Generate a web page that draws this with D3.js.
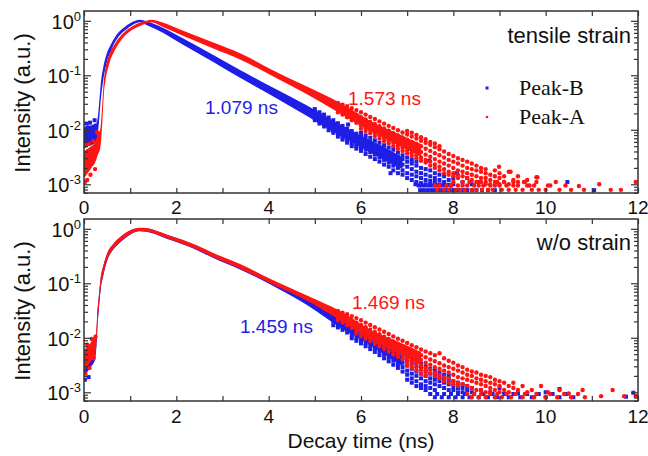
<!DOCTYPE html>
<html>
<head>
<meta charset="utf-8">
<script src="https://cdn.jsdelivr.net/npm/d3@7/dist/d3.min.js"></script>
<style>
body { margin: 0; background: #fff; }
svg { display: block; }
</style>
</head>
<body>
<script>
const WIDTH = 648;
const HEIGHT = 456;

// axis labels
const xTicks = [0, 2, 4, 6, 8, 10, 12];
const yDecades = [0, -1, -2, -3];
const panelNames = ['tensile strain', 'w/o strain'];
const seriesNames = ['Peak-B', 'Peak-A'];
const lifetimesB = ['1.079 ns', '1.459 ns'];
const lifetimesA = ['1.573 ns', '1.469 ns'];

// dense part of each decay: [time ns, lower edge, upper edge]
const topBBand = [[0.00,0.0045,0.011],[0.08,0.0050,0.012],[0.16,0.0052,0.012],[0.24,0.0058,0.013],[0.26,0.0060,0.013],
  [0.29,0.0075,0.015],[0.33,0.016,0.032],[0.36,0.033,0.065],[0.41,0.075,0.13],[0.48,0.155,0.23],[0.59,0.29,0.38],
  [0.71,0.46,0.56],[0.89,0.67,0.78],[1.07,0.86,0.97],[1.21,0.94,1.05],[1.35,0.84,0.98],[1.72,0.60,0.74],
  [2.08,0.39,0.51],[2.80,0.175,0.235],[3.38,0.090,0.125],[4.10,0.041,0.059],[4.83,0.018,0.028],[5.55,0.0078,0.0125],
  [6.00,0.0048,0.0078],[6.50,0.0028,0.0048],[6.90,0.0019,0.0031]];
const topABand = [[0.00,0.0013,0.0040],[0.08,0.0016,0.0045],[0.16,0.0020,0.0050],[0.24,0.0025,0.0060],[0.30,0.0035,0.0085],
  [0.35,0.0045,0.010],[0.40,0.015,0.033],[0.43,0.045,0.080],[0.46,0.075,0.125],[0.54,0.155,0.23],[0.67,0.29,0.38],
  [0.82,0.46,0.56],[1.03,0.67,0.78],[1.29,0.86,0.97],[1.45,0.94,1.05],[1.72,0.76,0.92],[2.08,0.56,0.69],
  [2.80,0.31,0.40],[3.38,0.195,0.255],[4.10,0.095,0.123],[4.83,0.045,0.062],[5.55,0.020,0.031],[6.27,0.0088,0.0135],
  [6.80,0.0052,0.0085],[7.30,0.0032,0.0055]];
const botBBand = [[0.00,0.0020,0.0042],[0.08,0.0024,0.0048],[0.16,0.0030,0.0055],[0.24,0.0040,0.0075],[0.27,0.0070,0.013],
  [0.29,0.015,0.028],[0.32,0.032,0.056],[0.36,0.075,0.12],[0.42,0.14,0.21],[0.51,0.27,0.36],[0.64,0.42,0.53],
  [0.82,0.60,0.74],[1.00,0.78,0.93],[1.20,0.90,1.04],[1.35,0.88,1.02],[1.79,0.66,0.78],[2.44,0.41,0.49],
  [2.80,0.29,0.35],[3.38,0.18,0.22],[4.11,0.088,0.106],[4.83,0.040,0.052],[5.55,0.0155,0.022],[6.00,0.0092,0.0135],
  [6.50,0.0050,0.0075],[6.90,0.0030,0.0048]];
const botABand = [[0.00,0.0025,0.0060],[0.08,0.0030,0.0070],[0.16,0.0038,0.0085],[0.22,0.0045,0.0105],[0.26,0.0060,0.012],
  [0.29,0.016,0.030],[0.32,0.034,0.058],[0.36,0.078,0.125],[0.42,0.145,0.215],[0.51,0.28,0.37],[0.64,0.43,0.54],
  [0.82,0.61,0.75],[1.00,0.79,0.94],[1.20,0.91,1.05],[1.35,0.89,1.03],[1.79,0.67,0.79],[2.44,0.42,0.50],
  [2.80,0.30,0.36],[3.38,0.185,0.225],[4.11,0.093,0.112],[4.83,0.048,0.060],[5.55,0.021,0.031],[6.27,0.0088,0.013],
  [6.80,0.0053,0.0085],[7.30,0.0032,0.0055]];

// noisy tail, one column of read-off intensities per time bin: [time ns, [intensities]]
const topBCols = [
  [5.0,[0.015,0.018,0.021,0.024,0.0165]],[5.1,[0.013,0.016,0.019,0.021,0.0145]],[5.2,[0.0115,0.014,0.0165,0.019,0.0128]],
  [5.3,[0.0098,0.012,0.0145,0.0168,0.011]],[5.4,[0.0088,0.0105,0.0128,0.015,0.0095]],[5.5,[0.0075,0.0092,0.011,0.0132,0.0083]],
  [5.6,[0.0066,0.008,0.0097,0.0118,0.0072]],[5.7,[0.0058,0.007,0.0086,0.0105,0.0063]],[5.8,[0.005,0.0062,0.0076,0.0095,0.0056]],
  [5.9,[0.0045,0.0054,0.0067,0.0085,0.005]],[6.0,[0.0041,0.0048,0.006,0.0076,0.0088]],[6.1,[0.0036,0.0043,0.0053,0.0068,0.0079]],
  [6.2,[0.0032,0.0039,0.0047,0.006,0.0071]],[6.3,[0.0029,0.0035,0.0042,0.0054,0.0064]],[6.4,[0.0026,0.0031,0.0038,0.0049,0.0058]],
  [6.5,[0.0023,0.0028,0.0034,0.0044,0.0052]],[6.6,[0.0021,0.0025,0.0031,0.0039,0.0047]],[6.7,[0.0018,0.0022,0.0028,0.0035,0.0043]],
  [6.8,[0.0016,0.002,0.0025,0.0032,0.0038]],[6.9,[0.0015,0.0018,0.0023,0.0029,0.0034]],[7.0,[0.0013,0.0016,0.0021,0.0026,0.0031]],
  [7.1,[0.0012,0.0015,0.0019,0.0024,0.0028]],[7.2,[0.0011,0.0014,0.0017,0.0022,0.0026]],[7.3,[0.00105,0.0013,0.0016,0.002]],
  [7.4,[0.001,0.0012,0.0015,0.0019]],[7.5,[0.001,0.00115,0.0014,0.0018]],[7.6,[0.00098,0.0011,0.0013,0.0016]],
  [7.7,[0.001,0.0012,0.0015]],[7.8,[0.001,0.0011,0.0014]],[7.9,[0.00098,0.0012]],[8.0,[0.001,0.0013]],
  [8.2,[0.0011]],[8.4,[0.001]]];
const topACols = [
  [5.5,[0.021,0.024,0.027,0.031]],[5.6,[0.019,0.022,0.025,0.029]],[5.7,[0.017,0.0195,0.023,0.027]],[5.8,[0.015,0.0175,0.021,0.025]],
  [5.9,[0.0135,0.016,0.019,0.023]],[6.0,[0.012,0.0145,0.017,0.021,0.0105]],[6.1,[0.0108,0.013,0.0155,0.019,0.0095]],
  [6.2,[0.0097,0.0118,0.014,0.0172,0.0086]],[6.3,[0.0088,0.0106,0.0128,0.0158,0.0077]],[6.4,[0.0079,0.0096,0.0116,0.0143,0.0069]],
  [6.5,[0.0071,0.0087,0.0106,0.013,0.0062]],[6.6,[0.0064,0.0079,0.0096,0.0118,0.0056]],[6.7,[0.0058,0.0071,0.0087,0.0108,0.005]],
  [6.8,[0.0052,0.0064,0.0079,0.0098,0.0045]],[6.9,[0.0047,0.0058,0.0072,0.0089,0.0041]],[7.0,[0.0042,0.0053,0.0066,0.0082,0.0037,0.0095]],
  [7.1,[0.0038,0.0048,0.006,0.0075,0.0033,0.0088]],[7.2,[0.0034,0.0043,0.0055,0.0069,0.003,0.008]],
  [7.3,[0.0031,0.0039,0.005,0.0063,0.0027,0.0073]],[7.4,[0.0028,0.0035,0.0045,0.0058,0.0025,0.0067]],
  [7.5,[0.0026,0.0032,0.0041,0.0053,0.0022,0.006]],[7.6,[0.0023,0.0029,0.0037,0.0048,0.002,0.0056]],
  [7.7,[0.0021,0.0026,0.0034,0.0044,0.0018,0.005]],[7.8,[0.0019,0.0024,0.0031,0.004,0.0016]],[7.9,[0.0017,0.0022,0.0028,0.0036,0.0015]],
  [8.0,[0.0016,0.002,0.0026,0.0033,0.0014]],[8.1,[0.0015,0.0018,0.0024,0.003,0.0013]],[8.2,[0.0014,0.0017,0.0022,0.0028]],
  [8.3,[0.0013,0.0016,0.002,0.0026]],[8.4,[0.0012,0.0015,0.0019,0.0024]],[8.5,[0.0011,0.0014,0.0018,0.0022]],
  [8.6,[0.0011,0.0013,0.0017,0.002]],[8.7,[0.001,0.0013,0.0016,0.0019]],[8.8,[0.001,0.0012,0.0015]],[8.9,[0.0011,0.0014,0.0018]],
  [9.0,[0.001,0.0013,0.0016]],[9.1,[0.0011,0.0014]],[9.2,[0.001,0.0017]],[9.3,[0.0012]],[9.4,[0.0011,0.0014]],
  [9.6,[0.0012]],[9.8,[0.00135]]];
const botBCols = [
  [5.4,[0.017,0.02,0.023,0.026]],[5.5,[0.0155,0.018,0.021,0.024]],[5.6,[0.014,0.0163,0.019,0.022]],[5.7,[0.0125,0.0146,0.017,0.02]],
  [5.8,[0.0112,0.013,0.0152,0.018,0.0098]],[5.9,[0.01,0.0117,0.0137,0.0162,0.0088]],[6.0,[0.009,0.0105,0.0123,0.0146,0.0079]],
  [6.1,[0.008,0.0094,0.011,0.013,0.007]],[6.2,[0.0071,0.0084,0.0099,0.0117,0.0062]],[6.3,[0.0063,0.0075,0.0088,0.0104,0.0055]],
  [6.4,[0.0056,0.0066,0.0079,0.0093,0.0048]],[6.5,[0.0049,0.0059,0.007,0.0083,0.0042]],[6.6,[0.0043,0.0052,0.0062,0.0074,0.0037]],
  [6.7,[0.0038,0.0046,0.0055,0.0066,0.0032]],[6.8,[0.0033,0.004,0.0049,0.0059,0.0028]],[6.9,[0.0029,0.0035,0.0043,0.0052,0.0024]],
  [7.0,[0.0025,0.0031,0.0038,0.0046,0.0021,0.0017]],[7.1,[0.0022,0.0027,0.0034,0.0041,0.0018,0.0015]],
  [7.2,[0.002,0.0024,0.003,0.0037,0.0016,0.0013]],[7.3,[0.0018,0.0022,0.0027,0.0033,0.0014,0.0012]],
  [7.4,[0.0016,0.002,0.0024,0.003,0.0013,0.0011]],[7.5,[0.0015,0.0018,0.0022,0.0027,0.0012]],[7.6,[0.0014,0.0017,0.002,0.0025,0.0011]],
  [7.7,[0.0013,0.0016,0.0019,0.0023]],[7.8,[0.0012,0.0015,0.0018,0.0021]],[7.9,[0.0011,0.0014,0.0017,0.002]],
  [8.0,[0.0011,0.0013,0.0016]],[8.1,[0.001,0.0012,0.0015]],[8.2,[0.001,0.0012,0.0014]],[8.3,[0.0011,0.0013]],
  [8.4,[0.001,0.0012]],[8.6,[0.0011]],[8.8,[0.001]]];
const botACols = [
  [5.5,[0.021,0.024,0.027,0.031]],[5.6,[0.019,0.022,0.025,0.029]],[5.7,[0.017,0.0198,0.023,0.027]],[5.8,[0.0152,0.0178,0.021,0.025]],
  [5.9,[0.0137,0.016,0.019,0.023,0.012]],[6.0,[0.0123,0.0145,0.0172,0.021,0.0108]],[6.1,[0.011,0.013,0.0156,0.019,0.0097]],
  [6.2,[0.0099,0.0118,0.0141,0.0172,0.0087]],[6.3,[0.0089,0.0106,0.0128,0.0156,0.0078]],[6.4,[0.008,0.0096,0.0116,0.0142,0.007]],
  [6.5,[0.0072,0.0087,0.0105,0.0129,0.0063]],[6.6,[0.0065,0.0078,0.0095,0.0117,0.0056]],[6.7,[0.0058,0.0071,0.0086,0.0106,0.005]],
  [6.8,[0.0052,0.0064,0.0078,0.0096,0.0045]],[6.9,[0.0047,0.0058,0.0071,0.0088,0.004]],[7.0,[0.0042,0.0052,0.0064,0.008,0.0036,0.0031]],
  [7.1,[0.0038,0.0047,0.0058,0.0073,0.0032,0.0028]],[7.2,[0.0034,0.0043,0.0053,0.0067,0.0029,0.0025]],
  [7.3,[0.0031,0.0039,0.0048,0.0061,0.0026,0.0022]],[7.4,[0.0028,0.0035,0.0044,0.0056,0.0024,0.002]],
  [7.5,[0.0026,0.0032,0.004,0.0052,0.0022]],[7.6,[0.0023,0.0029,0.0037,0.0048,0.002]],[7.7,[0.0021,0.0027,0.0034,0.0052,0.0018]],
  [7.8,[0.0019,0.0025,0.0031,0.0042,0.0016]],[7.9,[0.0018,0.0023,0.0029,0.0038,0.0015]],[8.0,[0.0016,0.0021,0.0027,0.0035,0.0014]],
  [8.1,[0.0015,0.0019,0.0025,0.0031,0.0013]],[8.2,[0.0014,0.0018,0.0023,0.0029]],[8.3,[0.0013,0.0017,0.0021,0.0026]],
  [8.4,[0.0012,0.0016,0.002,0.0024]],[8.5,[0.0011,0.0015,0.0018,0.0023]],[8.6,[0.0011,0.0014,0.0017,0.0021]],
  [8.7,[0.001,0.0013,0.0016,0.002]],[8.8,[0.001,0.0012,0.0015,0.0019]],[8.9,[0.0011,0.0014,0.0017]],[9.0,[0.001,0.0013,0.0016]],
  [9.1,[0.0011,0.0015]],[9.2,[0.001,0.0013]],[9.3,[0.0012,0.0015]],[9.4,[0.0011]],[9.5,[0.0013]],[9.6,[0.001]],
  [9.7,[0.0011]],[9.9,[0.0013]]];

// other scattered points (early noise, outliers, count-floor rows): [time ns, intensity]
const topBPts = [[0.02,0.0036],[0.05,0.013],[0.09,0.0040],[0.13,0.0135],[0.19,0.0042],[0.23,0.015],[0.27,0.0050],
  [5.72,0.0125],[6.08,0.0064],[6.64,0.0016],[7.18,0.0010],[7.48,0.0027],[8.08,0.0016],[8.30,0.0013],[10.47,0.0011],[11.05,0.00078],
  [7.25,0.00095],[7.32,0.00095],[7.40,0.00095],[7.48,0.00095],[7.55,0.00095],[7.62,0.00095],[7.70,0.00095],
  [7.78,0.00095],[7.85,0.00095],[7.95,0.00095],
  [7.28,0.00078],[7.36,0.00078],[7.44,0.00078],[7.52,0.00078],[7.60,0.00078],[7.68,0.00078],[7.76,0.00078],
  [7.84,0.00078],[7.92,0.00078],[8.00,0.00078],[8.10,0.00078],[8.20,0.00078],[8.30,0.00078],[8.40,0.00078],
  [8.50,0.00078],[8.62,0.00078],[8.75,0.00078],[8.90,0.00078]];
const topAPts = [[0.02,0.0011],[0.04,0.0052],[0.07,0.0012],[0.11,0.0055],[0.14,0.0015],[0.20,0.0062],[0.24,0.0019],[0.28,0.0090],
  [8.99,0.0021],[9.24,0.0017],[9.53,0.0011],[9.65,0.00095],[9.82,0.00135],[10.05,0.00095],[10.22,0.0011],[10.43,0.00095],
  [10.55,0.00079],[10.72,0.00093],[10.83,0.00079],[11.16,0.0010],[11.41,0.00079],[11.63,0.00079],[11.95,0.0011],
  [7.60,0.00095],[7.70,0.00095],[7.85,0.00095],[7.95,0.00095],[8.10,0.00095],[8.20,0.00095],[8.30,0.00095],
  [8.45,0.00095],[8.55,0.00095],[8.65,0.00095],[8.80,0.00095],[8.90,0.00095],[9.00,0.00095],[9.15,0.00095],
  [9.30,0.00095],[9.40,0.00095],[9.60,0.00095],[9.75,0.00095],[10.10,0.00095],
  [7.65,0.00079],[7.80,0.00079],[7.90,0.00079],[8.05,0.00079],[8.15,0.00079],[8.25,0.00079],[8.40,0.00079],
  [8.50,0.00079],[8.62,0.00079],[8.75,0.00079],[8.85,0.00079],[9.05,0.00079],[9.20,0.00079],[9.35,0.00079],
  [9.50,0.00079],[9.70,0.00079],[9.85,0.00079],[10.00,0.00079],[10.30,0.00079],
  [8.00,0.0011],[8.20,0.0011],[8.35,0.0011],[8.55,0.0011],[8.70,0.0011],[8.95,0.0011],[9.10,0.0011],[9.30,0.0011],
  [9.55,0.0011],[9.80,0.0011]];
const botBPts = [[0.02,0.0017],[0.06,0.0045],[0.10,0.0019],[0.14,0.0050],
  [9.00,0.0012],[9.40,0.00095],[10.00,0.0010],[10.30,0.00115],[11.74,0.00083],[11.90,0.00098],
  [7.50,0.00093],[7.65,0.00093],[7.80,0.00093],[7.95,0.00093],[8.10,0.00093],[8.25,0.00093],[8.45,0.00093],
  [8.65,0.00093],[8.85,0.00093],[9.10,0.00093],[9.30,0.00093],[9.60,0.00093],[9.85,0.00093],[10.15,0.00093],
  [10.45,0.00093],
  [7.60,0.00081],[7.75,0.00081],[7.90,0.00081],[8.05,0.00081],[8.20,0.00081],[8.35,0.00081],[8.55,0.00081],
  [8.75,0.00081],[8.95,0.00081],[9.20,0.00081],[9.45,0.00081],[9.70,0.00081],[10.00,0.00081],[10.30,0.00081],
  [10.60,0.00081]];
const botAPts = [[0.03,0.0022],[0.07,0.0075],[0.12,0.0028],[0.17,0.0095],[0.21,0.0042],[0.25,0.0105],
  [10.05,0.0010],[10.30,0.0011],[10.50,0.00095],[10.80,0.0011],[11.20,0.00085],[11.45,0.0011],[11.70,0.00085],[11.95,0.00085],
  [8.30,0.00093],[8.45,0.00093],[8.60,0.00093],[8.80,0.00093],[8.95,0.00093],[9.15,0.00093],[9.35,0.00093],
  [9.55,0.00093],[9.80,0.00093],[10.10,0.00093],[10.40,0.00093],[10.70,0.00093],
  [8.40,0.00081],[8.55,0.00081],[8.70,0.00081],[8.90,0.00081],[9.05,0.00081],[9.25,0.00081],[9.50,0.00081],
  [9.75,0.00081],[10.00,0.00081],[10.25,0.00081],[10.55,0.00081],[10.85,0.00081]];

const BLUE = '#1e1ee6';
const RED = '#ff1414';
const X0 = 84, X1 = 638, PH = 182;
const FONT = '"Liberation Sans", Arial, Helvetica, sans-serif';

function withColumns(pts, cols) {
    const out = pts.slice();
    cols.forEach(function (c) {
        c[1].forEach(function (v) { out.push([c[0], v]); });
    });
    return out;
}

const svg = d3.select('body').append('svg')
    .attr('width', WIDTH)
    .attr('height', HEIGHT)
    .style('font-family', FONT);

const xScale = d3.scaleLinear().domain([0, 12]).range([X0, X1]);

const panels = [
    {top: 11, labelY: 214, bands: [topBBand, topABand],
     pts: [withColumns(topBPts, topBCols), withColumns(topAPts, topACols)],
     nameY: 43, lifeB: [205, 114], lifeA: [348, 104.5], legend: true},
    {top: 219, labelY: 423, bands: [botBBand, botABand],
     pts: [withColumns(botBPts, botBCols), withColumns(botAPts, botACols)],
     nameY: 250, lifeB: [240, 333], lifeA: [352, 309], legend: false}
];

panels.forEach(function (p, i) {
    const yScale = d3.scaleLog()
        .domain([Math.pow(10, -3.16), Math.pow(10, 0.18)])
        .range([p.top + PH, p.top]);

    svg.append('clipPath').attr('id', 'clip' + i)
        .append('rect').attr('x', X0).attr('y', p.top).attr('width', X1 - X0).attr('height', PH);

    const plot = svg.append('g').attr('clip-path', 'url(#clip' + i + ')');

    const area = d3.area()
        .x(function (d) { return xScale(d[0]); })
        .y0(function (d) { return yScale(d[1]); })
        .y1(function (d) { return yScale(d[2]); })
        .curve(d3.curveMonotoneX);

    // Peak-B first, Peak-A on top
    plot.append('path').datum(p.bands[0]).attr('d', area).attr('fill', BLUE);
    plot.selectAll('rect.b').data(p.pts[0]).enter().append('rect')
        .attr('class', 'b')
        .attr('x', function (d) { return xScale(d[0]) - 2; })
        .attr('y', function (d) { return yScale(d[1]) - 2; })
        .attr('width', 4).attr('height', 4)
        .attr('fill', BLUE);
    plot.append('path').datum(p.bands[1]).attr('d', area).attr('fill', RED);
    plot.selectAll('circle.a').data(p.pts[1]).enter().append('circle')
        .attr('class', 'a')
        .attr('cx', function (d) { return xScale(d[0]); })
        .attr('cy', function (d) { return yScale(d[1]); })
        .attr('r', 2.2)
        .attr('fill', RED);

    // ticks, all pointing inward
    const axes = svg.append('g').attr('color', '#333');
    const xMinor = d3.range(0, 13);
    axes.append('g').attr('transform', 'translate(0,' + (p.top + PH) + ')')
        .call(d3.axisBottom(xScale).tickValues(xMinor).tickSize(-5).tickFormat(''));
    axes.append('g').attr('transform', 'translate(0,' + p.top + ')')
        .call(d3.axisTop(xScale).tickValues(xMinor).tickSize(-5).tickFormat(''));

    const dom = yScale.domain();
    const major = yDecades.map(function (e) { return Math.pow(10, e); });
    const minor = [];
    yDecades.concat([-4]).forEach(function (e) {
        for (let k = 2; k < 10; k++) {
            const v = k * Math.pow(10, e);
            if (v >= dom[0] && v <= dom[1]) minor.push(v);
        }
    });
    [[d3.axisLeft, X0], [d3.axisRight, X1]].forEach(function (a) {
        axes.append('g').attr('transform', 'translate(' + a[1] + ',0)')
            .call(a[0](yScale).tickValues(major).tickSize(-7).tickFormat(''));
        axes.append('g').attr('transform', 'translate(' + a[1] + ',0)')
            .call(a[0](yScale).tickValues(minor).tickSize(-4).tickFormat(''));
    });
    axes.selectAll('.domain').remove();
    axes.selectAll('line').attr('stroke-width', 1.2);

    svg.append('rect')
        .attr('x', X0).attr('y', p.top)
        .attr('width', X1 - X0).attr('height', PH)
        .attr('fill', 'none').attr('stroke', '#333').attr('stroke-width', 1.5);

    // tick labels
    svg.append('g').selectAll('text').data(xTicks).enter().append('text')
        .attr('x', function (d) { return xScale(d); })
        .attr('y', p.labelY)
        .attr('text-anchor', 'middle')
        .attr('font-size', 19)
        .attr('fill', '#111')
        .text(function (d) { return d; });

    const yl = svg.append('g').selectAll('text').data(yDecades).enter().append('text')
        .attr('x', 81)
        .attr('y', function (d) { return yScale(Math.pow(10, d)) + 8; })
        .attr('text-anchor', 'end')
        .attr('fill', '#111');
    yl.append('tspan').attr('font-size', 20).text('10');
    yl.append('tspan').attr('font-size', 13).attr('dy', -8).text(function (d) { return d; });

    svg.append('text')
        .attr('transform', 'translate(30,' + (p.top + 92) + ') rotate(-90)')
        .attr('text-anchor', 'middle')
        .attr('font-size', 22)
        .attr('fill', '#111')
        .text('Intensity (a.u.)');

    svg.append('text')
        .attr('x', 631).attr('y', p.nameY)
        .attr('text-anchor', 'end')
        .attr('font-size', 22)
        .attr('fill', '#111')
        .text(panelNames[i]);

    svg.append('text')
        .attr('x', p.lifeB[0]).attr('y', p.lifeB[1])
        .attr('font-size', 19)
        .attr('fill', BLUE)
        .text(lifetimesB[i]);
    svg.append('text')
        .attr('x', p.lifeA[0]).attr('y', p.lifeA[1])
        .attr('font-size', 19)
        .attr('fill', RED)
        .text(lifetimesA[i]);

    if (p.legend) {
        const lg = svg.append('g').attr('font-family', '"Liberation Serif", "Times New Roman", serif');
        seriesNames.forEach(function (name, k) {
            const ly = 88 + k * 29;
            if (k === 0) {
                lg.append('rect').attr('x', 485.5).attr('y', ly - 1.5).attr('width', 3).attr('height', 3).attr('fill', BLUE);
            } else {
                lg.append('circle').attr('cx', 487).attr('cy', ly).attr('r', 1.3).attr('fill', RED);
            }
            lg.append('text')
                .attr('x', 519).attr('y', ly + 7)
                .attr('font-size', 22)
                .attr('fill', '#111')
                .text(name);
        });
    }
});

svg.append('text')
    .attr('x', 361).attr('y', 448)
    .attr('text-anchor', 'middle')
    .attr('font-size', 21)
    .attr('fill', '#111')
    .text('Decay time (ns)');
</script>
</body>
</html>
